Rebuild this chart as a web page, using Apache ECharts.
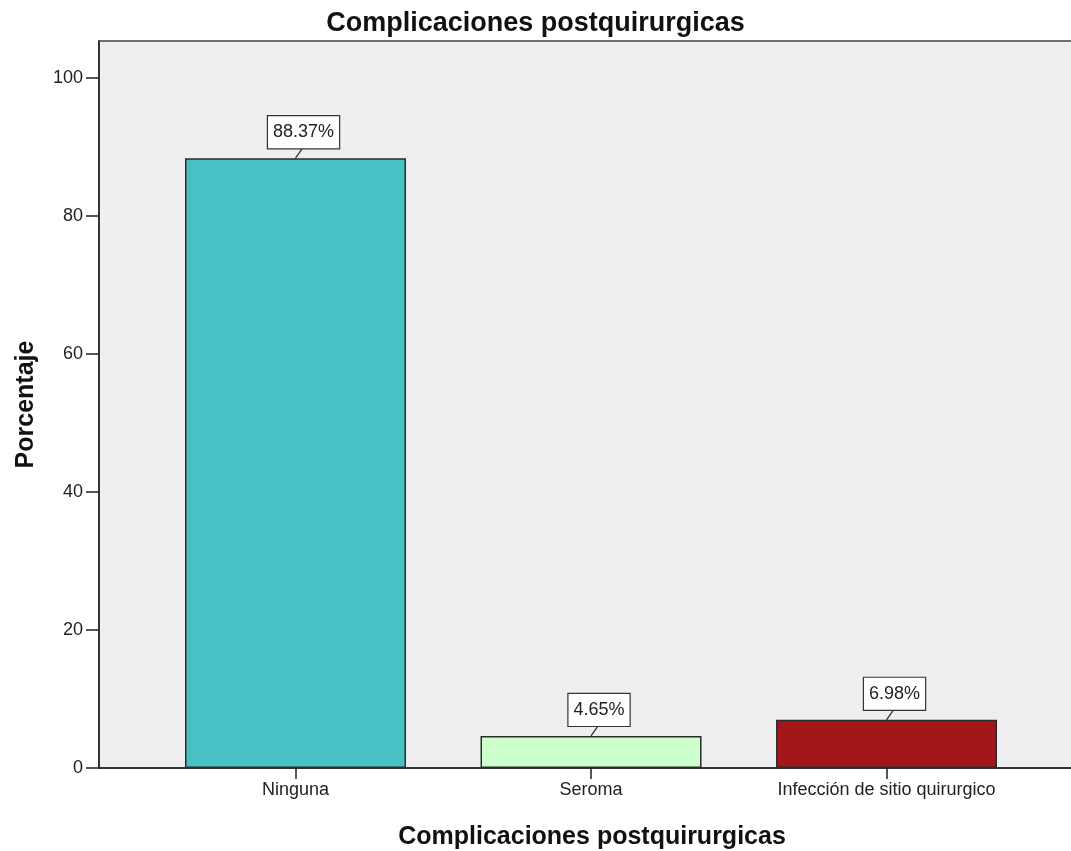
<!DOCTYPE html>
<html>
<head>
<meta charset="utf-8">
<script src="https://cdn.jsdelivr.net/npm/echarts@6/dist/echarts.min.js"></script>
<style>
  html, body { margin: 0; padding: 0; background: #ffffff; }
  #chart { width: 1071px; height: 851px; }
</style>
</head>
<body>
<div id="chart"></div>
<script>
// Frequency table: postoperative complications (percent of patients)
const categories = ['Ninguna', 'Seroma', 'Infección de sitio quirurgico'];
const percentages = [88.37, 4.65, 6.98];
const barColors = ['#48c1c5', '#ccffcc', '#a3161a'];
const yTicks = [0, 20, 40, 60, 80, 100];

const FONT = '"Liberation Sans", Arial, sans-serif';

// Categories sit at positions 1..n on a numeric x scale so the plot frame
// can extend past the bars unevenly, as in the SPSS layout.
const positions = categories.map((_, i) => i + 1);
const points = percentages.map((v, i) => [positions[i], v]);

const chart = echarts.init(document.getElementById('chart'), null, { renderer: 'canvas' });

chart.setOption({
  backgroundColor: '#ffffff',
  animation: false,
  title: {
    text: 'Complicaciones postquirurgicas',
    left: 'center',
    top: 5,
    textStyle: { fontFamily: FONT, fontSize: 27, fontWeight: 'bold', color: '#111' }
  },
  grid: {
    left: 99, right: -2, top: 41, bottom: 83,
    outerBoundsMode: 'none',
    containLabel: false,
    show: true,
    backgroundColor: '#efefef',
    borderColor: '#707070',
    borderWidth: 2
  },
  xAxis: {
    type: 'value',
    min: 0.335,
    max: 3.631,
    name: 'Complicaciones postquirurgicas',
    nameLocation: 'middle',
    nameGap: 57,
    nameTextStyle: { fontFamily: FONT, fontSize: 25, fontWeight: 'bold', color: '#111', padding: [0, 0, 0, 12] },
    splitLine: { show: false },
    axisLine: { show: true, onZero: false, lineStyle: { color: '#222', width: 1.5 } },
    axisTick: { show: true, customValues: positions, length: 11, lineStyle: { color: '#222', width: 1.5 } },
    axisLabel: {
      customValues: positions,
      margin: 13,
      fontFamily: FONT, fontSize: 18, color: '#222',
      formatter: v => categories[Math.round(v) - 1] || ''
    }
  },
  yAxis: {
    type: 'value',
    min: 0,
    max: 105.36,
    name: 'Porcentaje',
    nameLocation: 'middle',
    nameGap: 60,
    nameRotate: 90,
    nameTextStyle: { fontFamily: FONT, fontSize: 25, fontWeight: 'bold', color: '#111' },
    splitLine: { show: false },
    axisLine: { show: true, lineStyle: { color: '#222', width: 1.5 } },
    axisTick: { show: true, customValues: yTicks, length: 13, lineStyle: { color: '#222', width: 1.5 } },
    axisLabel: { customValues: yTicks, margin: 16, fontFamily: FONT, fontSize: 18, color: '#222' }
  },
  series: [
    {
      type: 'bar',
      barWidth: 221,
      data: points.map((p, i) => ({ value: p, itemStyle: { color: barColors[i] } })),
      itemStyle: { borderColor: '#2b2b2b', borderWidth: 1.5 }
    },
    {
      // Boxed value callouts with a short leader line to each bar top
      type: 'custom',
      data: points,
      z: 5,
      renderItem: (params, api) => {
        const v = api.value(1);
        const top = api.coord([api.value(0), v]);
        const bx = top[0] + 8;
        const by = top[1] - 10;
        return {
          type: 'group',
          children: [
            {
              type: 'line',
              shape: { x1: top[0], y1: top[1], x2: bx - 1, y2: by },
              style: { stroke: '#333', lineWidth: 1.3 }
            },
            {
              type: 'text',
              x: bx,
              y: by,
              style: {
                text: v.toFixed(2) + '%',
                fontFamily: FONT,
                fontSize: 18,
                fill: '#222',
                align: 'center',
                verticalAlign: 'bottom',
                backgroundColor: '#ffffff',
                borderColor: '#333',
                borderWidth: 1.2,
                padding: [7, 5, 7, 5]
              }
            }
          ]
        };
      }
    }
  ]
});
</script>
</body>
</html>
